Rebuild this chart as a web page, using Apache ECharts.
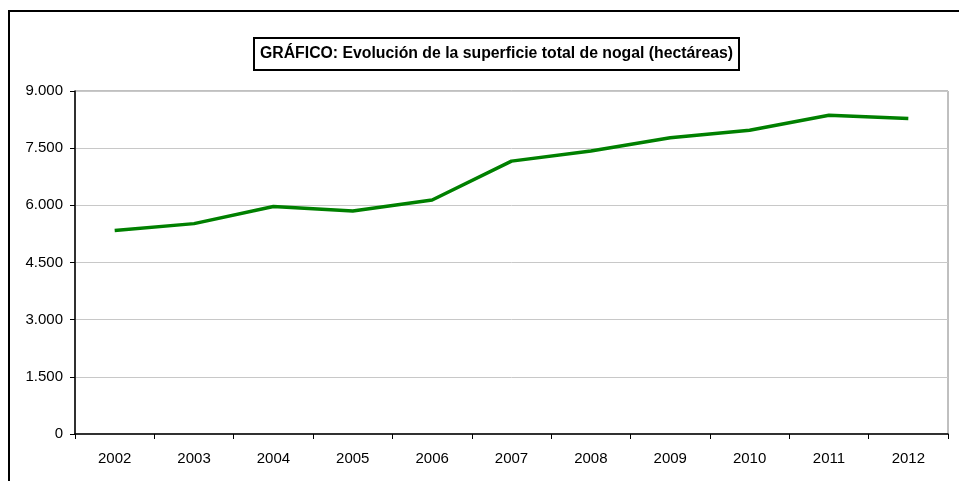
<!DOCTYPE html>
<html>
<head>
<meta charset="utf-8">
<script src="https://cdn.jsdelivr.net/npm/echarts@6/dist/echarts.min.js"></script>
<style>
html,body{margin:0;padding:0;background:#fff;}
#c{width:959px;height:481px;}
</style>
</head>
<body>
<div id="c"></div>
<script>
const years = ['2002','2003','2004','2005','2006','2007','2008','2009','2010','2011','2012'];
const superficie = [5340, 5520, 5970, 5850, 6140, 7160, 7425, 7775, 7970, 8365, 8280];
const titleText = 'GRÁFICO: Evolución de la superficie total de nogal (hectáreas)';

const chart = echarts.init(document.getElementById('c'), null, {renderer:'canvas'});
chart.setOption({
  backgroundColor:'#fff',
  animation:false,
  textStyle:{fontFamily:'Liberation Sans, Arial, sans-serif'},
  title:{
    text:titleText,
    left:254, top:38,
    padding:[8,6,8,6],
    borderColor:'#000', borderWidth:2,
    textStyle:{fontSize:15.8, fontWeight:'bold', color:'#000', fontFamily:'Liberation Sans, Arial, sans-serif'}
  },
  graphic:[{
    type:'polyline', silent:true,
    shape:{points:[[9,481],[9,11],[959,11]]},
    style:{stroke:'#000', lineWidth:2, fill:null}
  }],
  grid:{left:75, right:11, top:91, bottom:47, show:true, borderColor:'#808080', borderWidth:1},
  xAxis:{
    type:'category', data:years, boundaryGap:true,
    axisLine:{lineStyle:{color:'#000', width:1.5}},
    axisTick:{show:true, length:5, lineStyle:{color:'#000'}},
    axisLabel:{color:'#000', fontSize:15, margin:17}
  },
  yAxis:{
    type:'value', min:0, max:9000, interval:1500,
    axisLine:{show:true, lineStyle:{color:'#000', width:1.5}},
    axisTick:{show:true, length:5, lineStyle:{color:'#000'}},
    axisLabel:{color:'#000', fontSize:15, margin:12,
      formatter:v=>v.toString().replace(/\B(?=(\d{3})+(?!\d))/g,'.')},
    splitLine:{show:true, lineStyle:{color:'#c8c8c8', width:1}}
  },
  series:[{
    type:'line', data:superficie,
    symbol:'none',
    lineStyle:{color:'#008000', width:3.5},
    itemStyle:{color:'#008000'}
  }]
});
</script>
</body>
</html>
